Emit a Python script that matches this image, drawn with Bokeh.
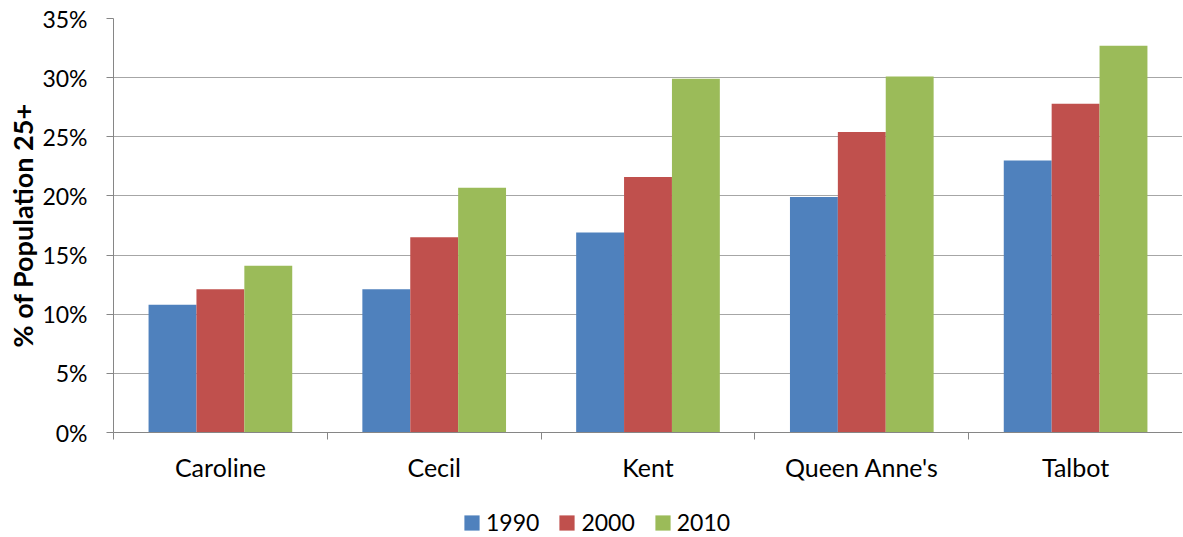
import numpy as np
from bokeh.plotting import figure
from bokeh.layouts import column
from bokeh.models import (Range1d, LinearAxis, FixedTicker,
                          NumeralTickFormatter, Legend, LegendItem, ColumnDataSource)
from bokeh.embed import file_html
from bokeh.resources import INLINE

counties = ["Caroline", "Cecil", "Kent", "Queen Anne's", "Talbot"]
years = ["1990", "2000", "2010"]
v1990 = [0.108, 0.121, 0.169, 0.199, 0.230]
v2000 = [0.121, 0.165, 0.216, 0.254, 0.278]
v2010 = [0.141, 0.207, 0.299, 0.301, 0.327]
colors = ["#4F81BD", "#C0504D", "#9BBB59"]
y_ticks = [0, 0.05, 0.10, 0.15, 0.20, 0.25, 0.30, 0.35]

FONT = "Lato"
W = 1182
idx = np.arange(len(counties))
centers = idx + 0.5
series = {"1990": v1990, "2000": v2000, "2010": v2010}

p = figure(x_range=Range1d(0, len(counties)), y_range=Range1d(0, 0.35),
           width=W, height=494, output_backend="svg", toolbar_location=None,
           min_border_left=113, min_border_top=18,
           min_border_right=0, min_border_bottom=62, outline_line_color=None)

bw = 0.224
for i, (yr, col) in enumerate(zip(years, colors)):
    src = ColumnDataSource(dict(x=centers + (i - 1) * bw, top=series[yr]))
    p.vbar(x="x", top="top", width=bw, source=src, fill_color=col, line_color=None)

# y axis
ya = p.yaxis[0]
ya.ticker = FixedTicker(ticks=y_ticks)
ya.formatter = NumeralTickFormatter(format="0%")
ya.axis_line_color = "#868686"
ya.major_tick_line_color = "#868686"
ya.major_tick_out = 7
ya.major_tick_in = 0
ya.minor_tick_line_color = None
ya.major_label_standoff = 19
ya.major_label_text_font = FONT
ya.major_label_text_font_size = "23px"
ya.major_label_text_color = "#000000"
ya.axis_label = "% of Population 25+"
ya.axis_label_text_font = FONT
ya.axis_label_text_font_style = "bold"
ya.axis_label_text_font_size = "27px"
ya.axis_label_text_color = "#000000"
ya.axis_label_standoff = 0
p.ygrid.grid_line_color = "#A6A6A6"
p.ygrid.ticker = FixedTicker(ticks=y_ticks)
p.xgrid.grid_line_color = None

# x axis: boundary ticks on the default axis, labels at category centres
xa = p.xaxis[0]
xa.ticker = FixedTicker(ticks=list(range(len(counties) + 1)))
xa.axis_line_color = "#868686"
xa.major_tick_line_color = "#868686"
xa.major_tick_out = 7
xa.major_tick_in = 0
xa.minor_tick_line_color = None
xa.major_label_text_font_size = "1px"
xa.major_label_text_alpha = 0
xa.major_label_standoff = 0

xc = LinearAxis(ticker=FixedTicker(ticks=list(centers)),
                major_label_overrides={float(c): n for c, n in zip(centers, counties)},
                axis_line_color=None, major_tick_line_color=None, minor_tick_line_color=None,
                major_label_text_font=FONT, major_label_text_font_size="25px",
                major_label_text_color="#000000", major_label_standoff=6)
p.add_layout(xc, "below")

# legend strip below the chart (its frame is aligned with the chart's frame)
lf = figure(x_range=Range1d(0, 1), y_range=Range1d(0, 1), width=W, height=42,
            output_backend="svg", toolbar_location=None, x_axis_location=None,
            y_axis_location=None, min_border=0, outline_line_color=None)
lf.xgrid.grid_line_color = None
lf.ygrid.grid_line_color = None
leg_renderers = []
for yr, col in zip(years, colors):
    # zero-height placeholder outside the visible range: only its legend swatch shows
    r = lf.vbar(x="x", top="top", width=0.01,
                source=ColumnDataSource(dict(x=[-5.0], top=[0.0])),
                fill_color=col, line_color=None)
    leg_renderers.append(r)

legend = Legend(items=[LegendItem(label=y, renderers=[r]) for y, r in zip(years, leg_renderers)],
                orientation="horizontal", location=(349, 0), padding=0, margin=0,
                spacing=18, label_standoff=5, glyph_width=19, glyph_height=19,
                label_text_font=FONT, label_text_font_size="23px", label_text_color="#000000",
                border_line_color=None, background_fill_alpha=0)
lf.add_layout(legend)

layout = column(p, lf, spacing=0)
open("out.html", "w").write(file_html(layout, INLINE))
